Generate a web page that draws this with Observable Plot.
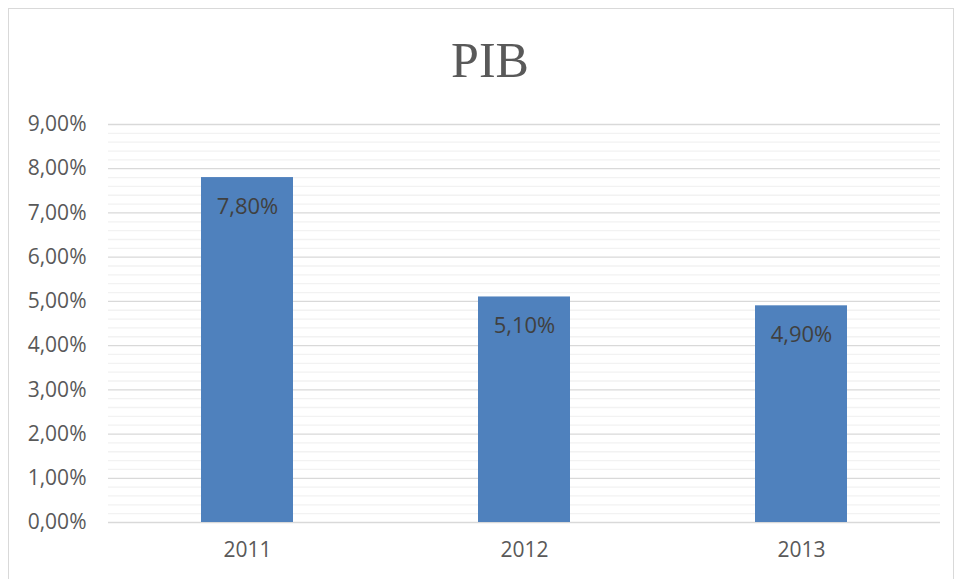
<!DOCTYPE html>
<html>
<head>
<meta charset="utf-8">
<script src="https://cdn.jsdelivr.net/npm/d3@7"></script>
<script src="https://cdn.jsdelivr.net/npm/@observablehq/plot@0.6"></script>
<style>
  html, body { margin: 0; padding: 0; background: #fff; overflow: hidden; }
  #wrap { position: relative; width: 959px; height: 579px; }
  #frame { position: absolute; left: 8px; top: 8px; width: 946px; height: 620px; border: 1px solid #d9d9d9; box-sizing: border-box; }
  #title { position: absolute; left: 0; top: 30px; width: 980px; text-align: center; font-family: "Liberation Serif", "DejaVu Serif", serif; font-size: 50px; color: #595959; line-height: 60px; }
  #chart { position: absolute; left: 0; top: 100px; }
</style>
</head>
<body>
<div id="wrap">
  <div id="frame"></div>
  <div id="title">PIB</div>
  <div id="chart"></div>
</div>
<script>
const years = ["2011", "2012", "2013"];
const values = [7.8, 5.1, 4.9];
const yTicks = [0, 1, 2, 3, 4, 5, 6, 7, 8, 9];
const minorTicks = [];
for (let i = 0; i < 9; i++) for (const f of [0.2, 0.4, 0.6, 0.8]) minorTicks.push(+(i + f).toFixed(1));

const data = years.map((y, i) => ({year: y, value: values[i]}));
const fmt = v => v.toFixed(2).replace(".", ",") + "%";

const chart = Plot.plot({
  width: 959,
  height: 479,
  marginTop: 24,
  marginBottom: 57,
  marginLeft: 108,
  marginRight: 19,
  style: {fontFamily: "'Open Sans', 'Liberation Sans', sans-serif", fontSize: "21px", color: "#595959", background: "transparent"},
  x: {domain: years, paddingInner: 0.667, paddingOuter: 0.3335, label: null, tickSize: 0, tickPadding: 20},
  y: {domain: [0, 9], ticks: yTicks, tickFormat: fmt, label: null, tickSize: 0, tickPadding: 22},
  marks: [
    Plot.ruleY(minorTicks, {stroke: "#f2f2f2", strokeWidth: 1.3}),
    Plot.ruleY(yTicks, {stroke: "#d9d9d9", strokeWidth: 1.3}),
    Plot.barY(data, {x: "year", y: "value", fill: "#4f81bd"}),
    Plot.text(data, {x: "year", y: "value", text: d => fmt(d.value), dy: 29, fill: "#404040", fontSize: 22}),
    Plot.axisX({tickSize: 0, tickPadding: 20, fontSize: 21, fill: "#595959"}),
    Plot.axisY({ticks: yTicks, tickFormat: fmt, tickSize: 0, tickPadding: 22, fontSize: 21, fill: "#595959"})
  ]
});
document.getElementById("chart").appendChild(chart);
</script>
</body>
</html>
